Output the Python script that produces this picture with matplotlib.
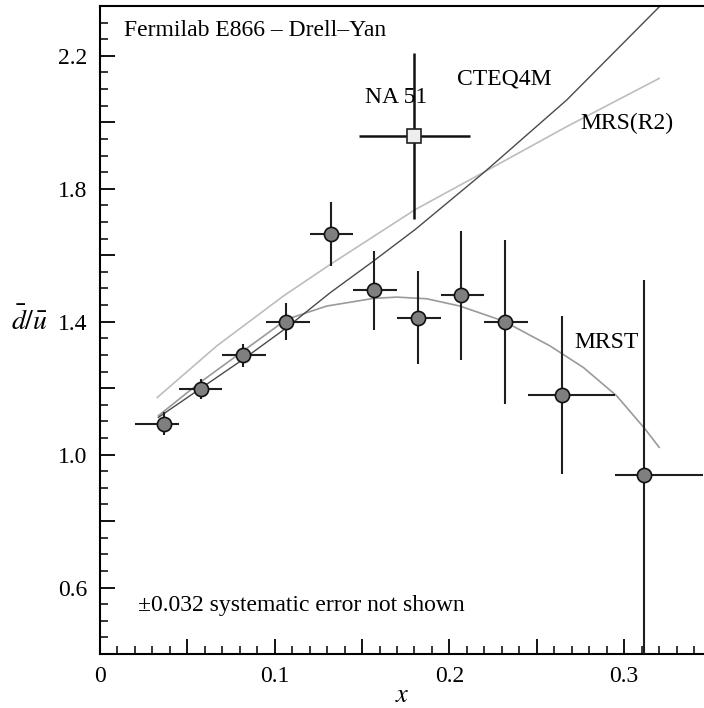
import numpy as np
import matplotlib
matplotlib.use("Agg")
import matplotlib.pyplot as plt
from matplotlib.ticker import MultipleLocator, FuncFormatter

plt.rcParams["font.family"] = ["Liberation Serif", "DejaVu Serif"]
plt.rcParams["mathtext.fontset"] = "stix"

# E866 data points (x, dbar/ubar), bin edges and stat errors
e866_x = [0.0366, 0.0576, 0.082, 0.1065, 0.132, 0.1567, 0.1818, 0.2068, 0.2316, 0.2644, 0.3116]
e866_y = [1.093, 1.197, 1.299, 1.400, 1.664, 1.494, 1.412, 1.479, 1.399, 1.180, 0.939]
e866_yerr = [0.035, 0.030, 0.035, 0.055, 0.095, 0.119, 0.140, 0.193, 0.248, 0.237, 0.587]
bin_edges = [0.02, 0.045, 0.07, 0.095, 0.12, 0.145, 0.17, 0.195, 0.22, 0.245, 0.295, 0.345]

# NA51 point
na51_x = [0.18]
na51_y = [1.96]
na51_xerr = [0.032]
na51_yerr = [0.25]

# parametrisation curves
cteq_x = [0.0334, 0.082, 0.1068, 0.1317, 0.1564, 0.1803, 0.2204, 0.2671, 0.320]
cteq_y = [1.112, 1.287, 1.382, 1.487, 1.582, 1.677, 1.852, 2.067, 2.347]
mrs_x = [0.0328, 0.0668, 0.1049, 0.1317, 0.1803, 0.2204, 0.2671, 0.320]
mrs_y = [1.172, 1.327, 1.477, 1.572, 1.737, 1.852, 1.987, 2.132]
mrst_x = [0.0334, 0.0572, 0.082, 0.1068, 0.1297, 0.1564, 0.1698, 0.187, 0.206,
          0.2309, 0.2576, 0.2767, 0.2957, 0.312, 0.320]
mrst_y = [1.117, 1.217, 1.312, 1.407, 1.447, 1.470, 1.474, 1.469, 1.447,
          1.402, 1.327, 1.262, 1.177, 1.077, 1.022]

fig = plt.figure(figsize=(7.04, 7.08), dpi=100)
ax = fig.add_axes([100 / 704, 54 / 708, 604 / 704, 648 / 708])

# curves
ax.plot(mrs_x, mrs_y, color="#bdbdbd", lw=1.2, zorder=2)
ax.plot(mrst_x, mrst_y, color="#9a9a9a", lw=1.2, zorder=2)
ax.plot(cteq_x, cteq_y, color="#4a4a4a", lw=1.0, zorder=2)

# E866 points
x = np.array(e866_x)
edges = np.array(bin_edges)
xerr = [x - edges[:-1], edges[1:] - x]
ax.errorbar(e866_x, e866_y, xerr=xerr, yerr=e866_yerr, fmt="none",
            ecolor="#1e1e1e", elinewidth=1.5, capsize=0, zorder=3)
ax.plot(e866_x, e866_y, "o", ms=10.2, mfc="#7f7f7f", mec="#111111", mew=1.2, zorder=4)

# NA51 point
ax.errorbar(na51_x, na51_y, xerr=na51_xerr, yerr=na51_yerr, fmt="none",
            ecolor="#111111", elinewidth=1.8, capsize=0, zorder=3)
ax.plot(na51_x, na51_y, "s", ms=10.5, mfc="#eeeeee", mec="#222222", mew=1.2, zorder=4)

ax.set_xlim(0, 0.3457)
ax.set_ylim(0.4, 2.35)

# spines and ticks
ax.spines["right"].set_visible(False)
for s in ["left", "bottom", "top"]:
    ax.spines[s].set_linewidth(1.5)
ax.xaxis.set_major_locator(MultipleLocator(0.05))
ax.xaxis.set_minor_locator(MultipleLocator(0.01))
ax.yaxis.set_major_locator(MultipleLocator(0.2))
ax.yaxis.set_minor_locator(MultipleLocator(0.05))


def fmt_x(v, pos):
    if abs(v) < 1e-9:
        return "0"
    if abs(v * 10 - round(v * 10)) < 1e-6:
        return f"{v:.1f}"
    return ""


def fmt_y(v, pos):
    k = round((v - 0.6) / 0.4, 6)
    if abs(k - round(k)) < 1e-6:
        return f"{v:.1f}"
    return ""


ax.xaxis.set_major_formatter(FuncFormatter(fmt_x))
ax.yaxis.set_major_formatter(FuncFormatter(fmt_y))
ax.tick_params(which="major", direction="in", length=11, width=1.3, labelsize=17)
ax.tick_params(which="minor", direction="in", length=5.5, width=1.1)
ax.tick_params(axis="y", pad=9)
ax.tick_params(axis="x", pad=9)
ax.tick_params(top=False, right=False, which="both")

# axis labels
ax.set_xlabel("$x$", fontsize=19, labelpad=-2)
ax.text(-0.117, 1.4, r"$\bar{d}/\bar{u}$", transform=ax.get_yaxis_transform(),
        fontsize=20, ha="center", va="center")

# annotations
fig.text(124 / 704, 1 - 31 / 708, "Fermilab E866 – Drell–Yan", fontsize=17,
         ha="left", va="center")
ax.text(0.1694, 2.075, "NA 51", fontsize=17, ha="center", va="center")
ax.text(0.2045, 2.13, "CTEQ4M", fontsize=17, ha="left", va="center")
ax.text(0.2748, 1.998, "MRS(R2)", fontsize=17, ha="left", va="center")
ax.text(0.2715, 1.337, "MRST", fontsize=17, ha="left", va="center")
ax.text(0.022, 0.547, "±0.032 systematic error not shown", fontsize=17,
        ha="left", va="center")

fig.savefig("out.png", dpi=100)
